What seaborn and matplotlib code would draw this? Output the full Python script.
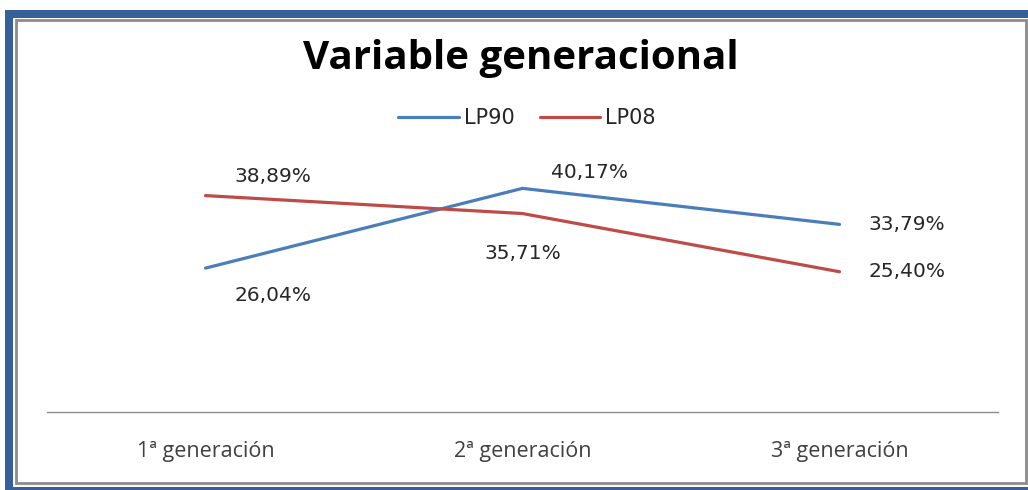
import pandas as pd
import numpy as np

import matplotlib.pyplot as plt
import seaborn as sns
from matplotlib.patches import Rectangle

sns.set_theme(style='white')

# data
generaciones = ['1ª generación', '2ª generación', '3ª generación']
lp90 = [26.04, 40.17, 33.79]
lp08 = [38.89, 35.71, 25.40]
series = ['LP90', 'LP08']
colores = ['#4a7ebb', '#be4b48']

df = pd.DataFrame({
    'Generacion': generaciones * 2,
    'Valor': lp90 + lp08,
    'Serie': ['LP90'] * 3 + ['LP08'] * 3,
})

fig = plt.figure(figsize=(10.28, 4.90), dpi=100)
fig.patch.set_facecolor('white')

# frame: blue band, then grey inner border
fig.patches.append(Rectangle((5 / 1028, 0), 1.1, 1 - 10 / 490, transform=fig.transFigure,
                             facecolor='#36609a', edgecolor='none', zorder=-3))
fig.patches.append(Rectangle((13 / 1028, 3 / 490), 1.1, 1 - 21 / 490, transform=fig.transFigure,
                             facecolor='white', edgecolor='none', zorder=-2))
fig.patches.append(Rectangle((16 / 1028, 7 / 490), 1010 / 1028, 463 / 490, transform=fig.transFigure,
                             facecolor='white', edgecolor='#8c8c8c', linewidth=2, zorder=-1))

ax = fig.add_axes([47 / 1028, 78 / 490, 951 / 1028, 254 / 490])
ax.set_facecolor('none')
ax.set_zorder(2)

sns.lineplot(data=df, x='Generacion', y='Valor', hue='Serie', hue_order=series,
             palette=colores, linewidth=2.3, sort=False, legend=False, ax=ax)

ax.set_xlim(-0.5, 2.5)
ax.set_ylim(0.55, 45.55)
ax.set_xlabel('')
ax.set_ylabel('')
ax.set_yticks([])
ax.set_xticks(range(3))
ax.set_xticklabels(generaciones, fontfamily='Open Sans', fontsize=15.5, color='#404040')
ax.tick_params(axis='x', length=0, pad=21)
for s in ['top', 'right', 'left']:
    ax.spines[s].set_visible(False)
ax.spines['bottom'].set_color('#8c8c8c')
ax.spines['bottom'].set_linewidth(1)

# data labels (offsets in pixels as seen in the reference)
offs90 = [(67, -27), (67, 16), (67, 0)]
offs08 = [(67, 19), (0, -40), (67, 0)]
for vals, offs in [(lp90, offs90), (lp08, offs08)]:
    for i, (v, o) in enumerate(zip(vals, offs)):
        ax.annotate(f'{v:.2f}%'.replace('.', ','), (i, v), xytext=(o[0] * 0.72, o[1] * 0.72),
                    textcoords='offset points', ha='center', va='center',
                    fontfamily='DejaVu Sans', fontsize=14.5, color='#262626')

# legend
handles = [plt.Line2D([], [], color=c, linewidth=2.3) for c in colores]
fig.legend(handles, series, loc='center', bbox_to_anchor=(527 / 1028, 1 - 118 / 490),
           ncol=2, frameon=False, handlelength=2.9, handletextpad=0.25, columnspacing=1.2,
           prop={'family': 'DejaVu Sans', 'size': 15})

fig.text(521 / 1028, 1 - 58 / 490, 'Variable generacional', ha='center', va='center',
         fontfamily='Open Sans', fontweight='bold', fontsize=29, color='black')

fig.savefig('out.png', dpi=100)
